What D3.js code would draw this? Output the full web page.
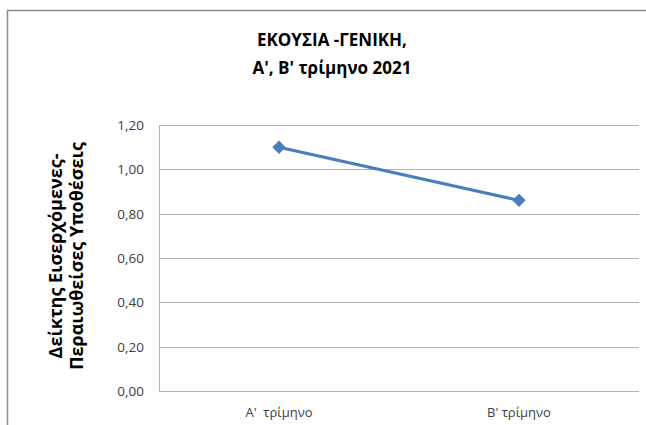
<!DOCTYPE html>
<html>
<head>
<meta charset="UTF-8">
<title>ΕΚΟΥΣΙΑ -ΓΕΝΙΚΗ</title>
<script src="https://cdn.jsdelivr.net/npm/d3@7"></script>
<style>
  body { margin: 0; background: #fff; }
  svg text { font-family: "Open Sans", "Noto Sans", sans-serif; }
</style>
</head>
<body>
<svg id="chart" width="646" height="425"></svg>
<script>
// chart data
var titleLines = ["ΕΚΟΥΣΙΑ -ΓΕΝΙΚΗ,", "Α', Β' τρίμηνο 2021"];
var yTitleLines = ["Δείκτης Εισερχόμενες-", "Περαιωθείσες Υποθέσεις"];
var categories = ["Α'  τρίμηνο", "Β' τρίμηνο"];
var values = [1.10, 0.86];
var yTicks = [0, 0.2, 0.4, 0.6, 0.8, 1.0, 1.2];

var svg = d3.select("#chart");
var plotLeft = 159, plotRight = 639, plotTop = 125, plotBottom = 391;

// outer frame
svg.append("rect")
    .attr("x", 7.5).attr("y", 10.5)
    .attr("width", 660).attr("height", 440)
    .attr("fill", "none")
    .attr("stroke", "#8c8c8c")
    .attr("stroke-width", 1.5);

var x = d3.scalePoint().domain(categories).range([plotLeft, plotRight]).padding(0.5);
var y = d3.scaleLinear().domain([0, 1.2]).range([plotBottom, plotTop]);

// gridlines
svg.append("g").selectAll("line")
    .data(yTicks)
    .enter().append("line")
    .attr("x1", plotLeft).attr("x2", plotRight)
    .attr("y1", function(d) { return Math.round(y(d)) + 0.5; })
    .attr("y2", function(d) { return Math.round(y(d)) + 0.5; })
    .attr("stroke", "#b3b3b3")
    .attr("stroke-width", 1);

// y axis line
svg.append("line")
    .attr("x1", plotLeft + 0.5).attr("x2", plotLeft + 0.5)
    .attr("y1", plotTop).attr("y2", plotBottom + 0.5)
    .attr("stroke", "#b3b3b3");

// y tick labels
svg.append("g").selectAll("text")
    .data(yTicks)
    .enter().append("text")
    .attr("x", 144)
    .attr("y", function(d) { return y(d) + 5; })
    .attr("text-anchor", "end")
    .attr("font-size", 13.5)
    .attr("fill", "#404040")
    .text(function(d) { return d.toFixed(2).replace(".", ","); });

// x labels
svg.append("g").selectAll("text")
    .data(categories)
    .enter().append("text")
    .attr("x", function(d) { return x(d); })
    .attr("y", 417)
    .attr("text-anchor", "middle")
    .attr("font-size", 13)
    .attr("fill", "#404040")
    .style("white-space", "pre")
    .text(function(d) { return d; });

// line
var line = d3.line()
    .x(function(d, i) { return x(categories[i]); })
    .y(function(d) { return y(d); });

svg.append("path")
    .datum(values)
    .attr("d", line)
    .attr("fill", "none")
    .attr("stroke", "#4a7ebb")
    .attr("stroke-width", 3);

svg.append("g").selectAll("path")
    .data(values)
    .enter().append("path")
    .attr("d", d3.symbol().type(d3.symbolSquare).size(90))
    .attr("transform", function(d, i) {
        return "translate(" + x(categories[i]) + "," + y(d) + ") rotate(45)";
    })
    .attr("fill", "#4a7ebb");

// title
svg.append("g").selectAll("text")
    .data(titleLines)
    .enter().append("text")
    .attr("x", 332)
    .attr("y", function(d, i) { return 46 + i * 28; })
    .attr("text-anchor", "middle")
    .attr("font-size", 17)
    .attr("font-weight", "bold")
    .attr("fill", "#000")
    .text(function(d) { return d; });

// y title
svg.append("g")
    .attr("transform", "translate(66,256) rotate(-90)")
    .selectAll("text")
    .data(yTitleLines)
    .enter().append("text")
    .attr("x", 0)
    .attr("y", function(d, i) { return i * 21 - 4; })
    .attr("text-anchor", "middle")
    .attr("font-size", 18)
    .attr("font-weight", "bold")
    .attr("fill", "#000")
    .text(function(d) { return d; });
</script>
</body>
</html>
